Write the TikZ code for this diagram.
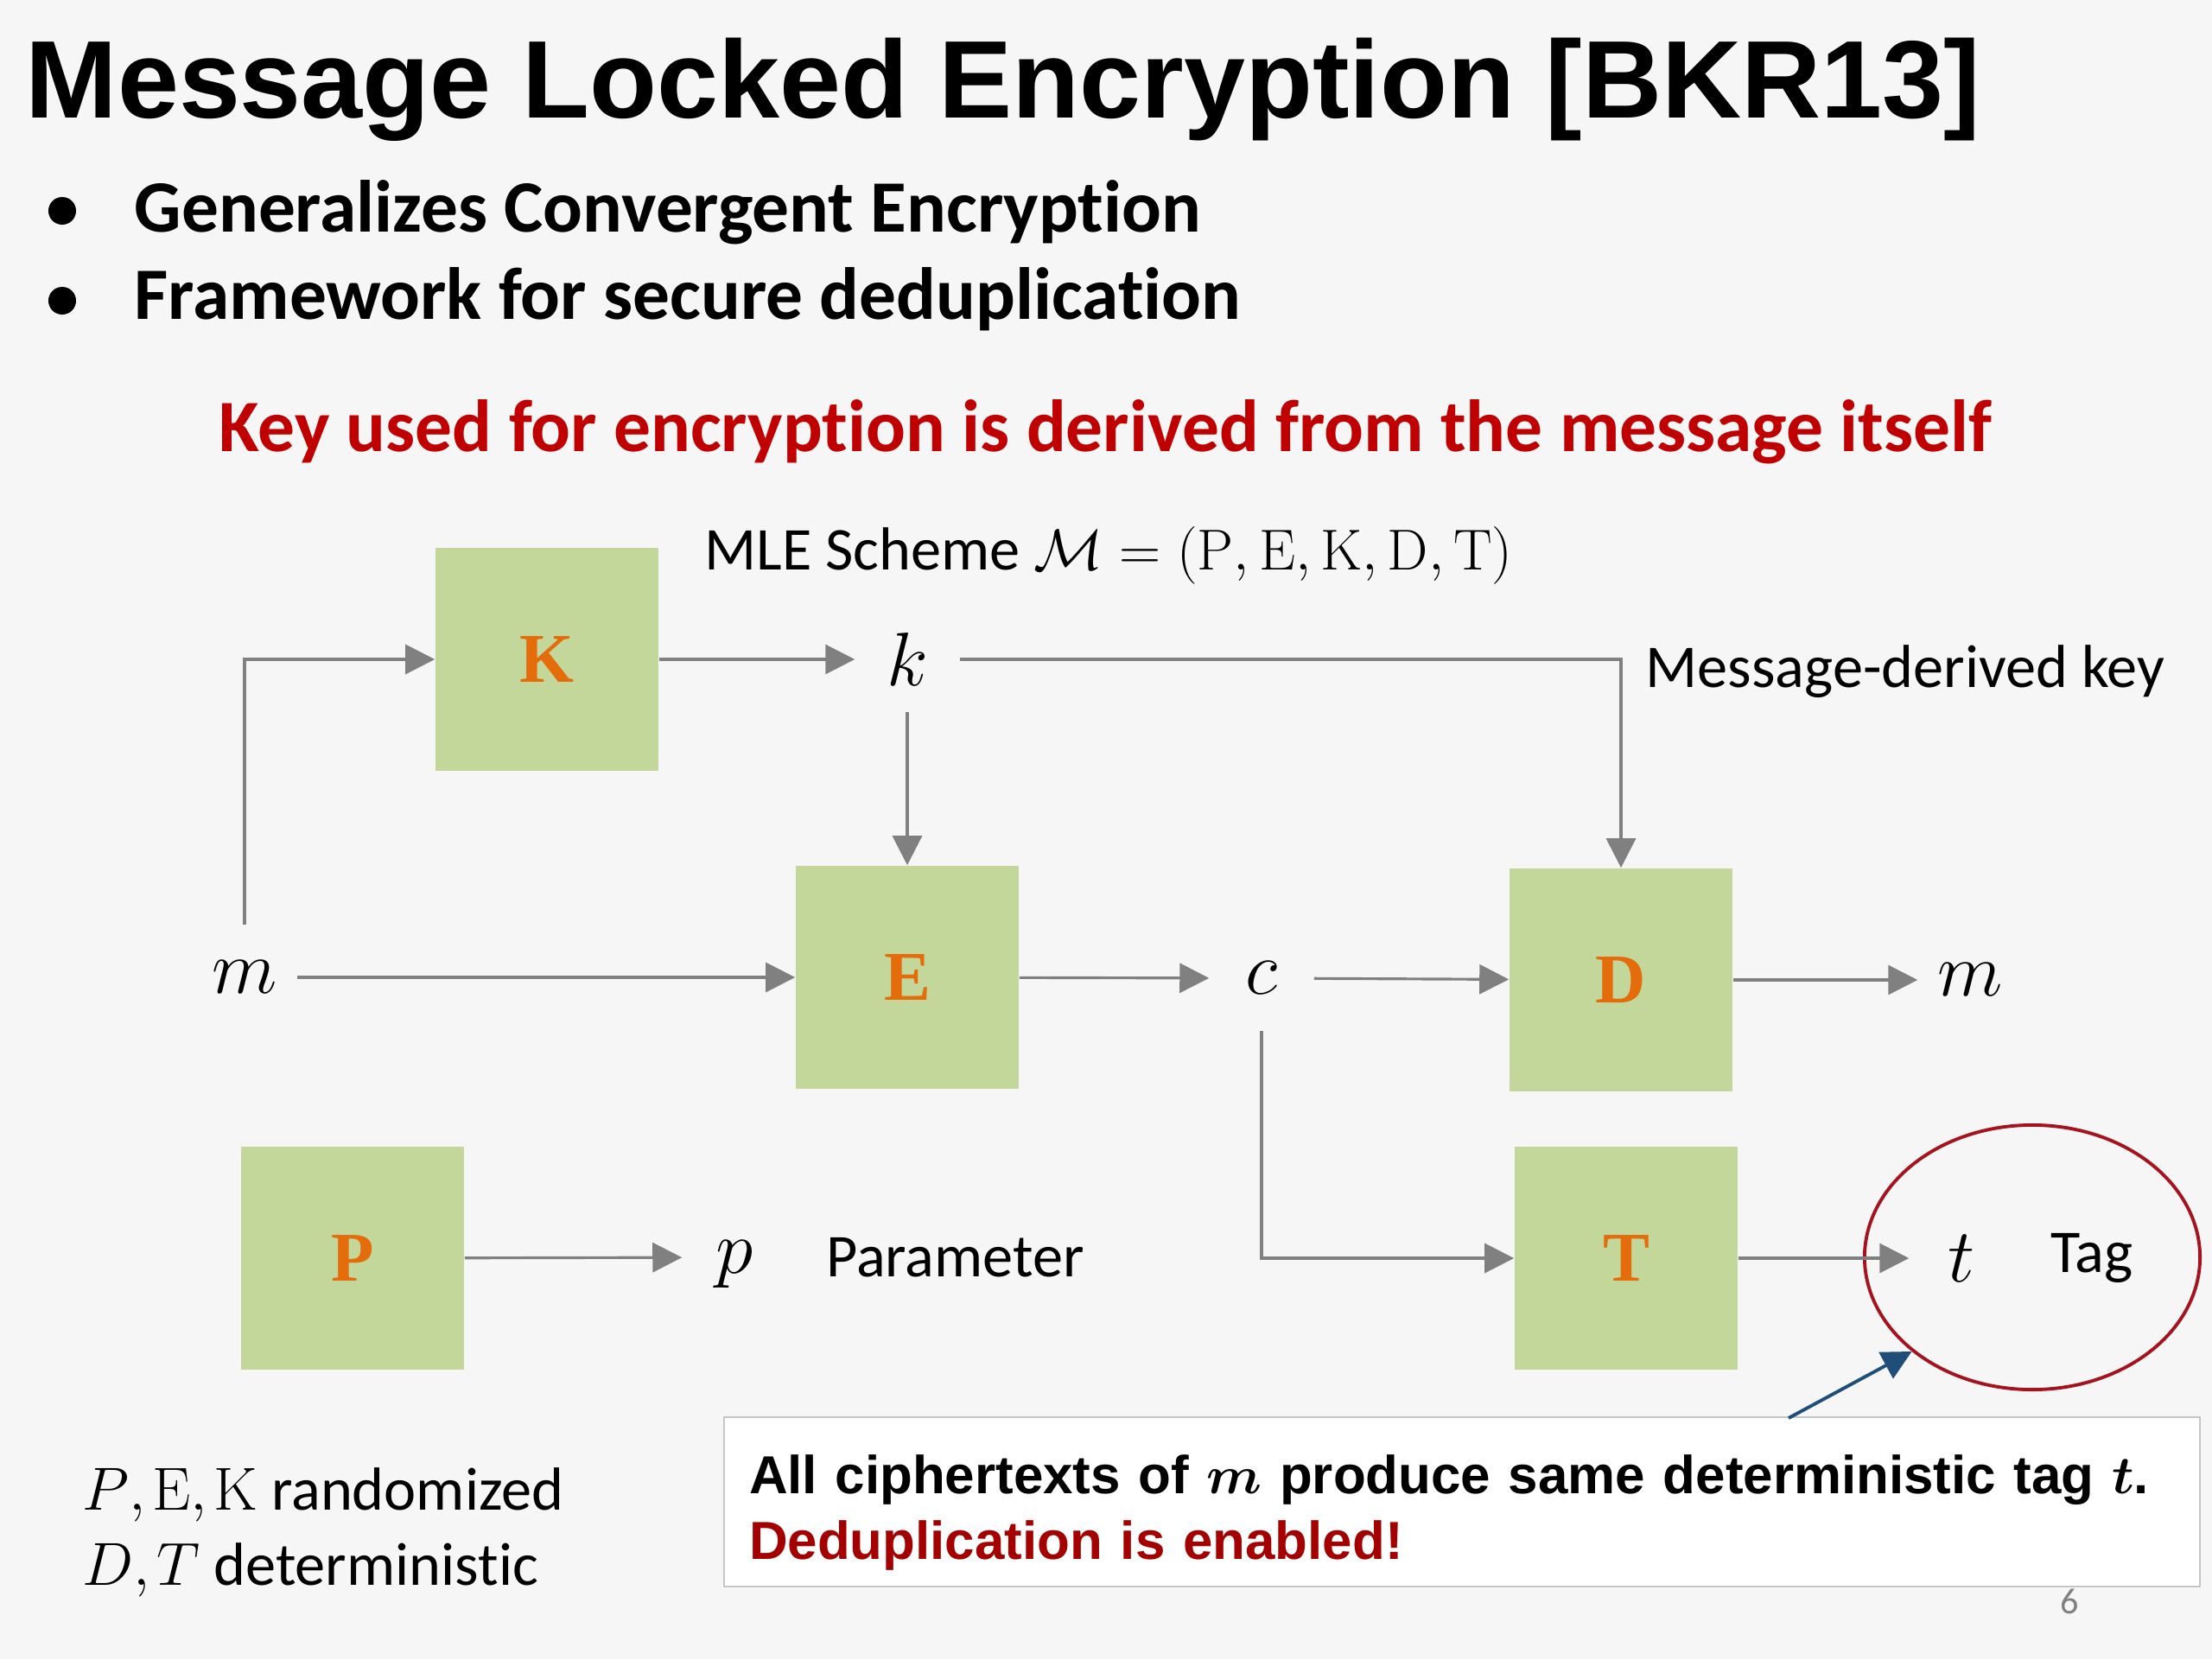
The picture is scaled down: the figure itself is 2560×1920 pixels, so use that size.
\documentclass[tikz,border=0pt]{standalone}
\usepackage{fix-cm}
\usepackage[no-math]{fontspec}
\setmainfont{Carlito}[RawFeature={-liga;-clig;-calt;-ccmp;-rlig}]
\newfontfamily\arialfont{Liberation Sans}
\newfontfamily\boxfont{Liberation Serif}
\usepackage{bm}
\usepackage{tikz}
\usetikzlibrary{arrows.meta,positioning,shapes.geometric}
\definecolor{slidebg}{RGB}{246,246,246}
\definecolor{boxgreen}{RGB}{196,215,155}
\definecolor{letterorange}{RGB}{228,108,10}
\definecolor{wiregray}{RGB}{128,128,128}
\definecolor{headred}{RGB}{192,0,0}
\definecolor{notered}{RGB}{164,0,0}
\definecolor{ringred}{RGB}{165,20,30}
\definecolor{noteblue}{RGB}{31,78,121}
\newcommand{\varsz}{\fontsize{25}{30}\selectfont}
\newcommand{\lblsz}{\fontsize{20}{24}\selectfont}

\begin{document}
\begin{tikzpicture}[x=0.01cm, y=-0.01cm, >={Triangle[length=0.34cm,width=0.34cm]},
	box/.style={rectangle, fill=boxgreen, minimum width=2.58cm, minimum height=2.58cm, inner sep=0, text=letterorange, font=\boxfont\bfseries\fontsize{23}{28}\selectfont},
	var/.style={circle, minimum size=1.2cm, inner sep=0, text depth=0pt, font=\varsz},
	txt/.style={anchor=base west, inner sep=0},
	wire/.style={->, wiregray, line width=0.9pt}]
		\fill[slidebg] (0,0) rectangle (2560,1920);
		\useasboundingbox (0,0) rectangle (2560,1920);

		\node[txt, font=\arialfont\bfseries\fontsize{36.3}{44}\selectfont] (title) at (29,136) {Message Locked Encryption [BKR13]};
		\fill (72,244) circle (0.16cm);
		\fill (72,348) circle (0.16cm);
		\node[txt, font=\bfseries\fontsize{24.3}{29}\selectfont] (pt1) at (155,268) {Generalizes Convergent Encryption};
		\node[txt, font=\bfseries\fontsize{24.3}{29}\selectfont] (pt2) at (155,369) {Framework for secure deduplication};
		\node[txt, text=headred, font=\bfseries\fontsize{24.3}{29}\selectfont] (claim) at (253,522) {Key used for encryption is derived from the message itself};
		\node[txt, font=\lblsz] (scheme) at (815,659) {MLE Scheme {\fontsize{19}{24}\selectfont$\mathcal{M} = (\mathrm{P}, \mathrm{E}, \mathrm{K}, \mathrm{D}, \mathrm{T})$}};

		\node[box] (boxK) at (633,763) {K};
		\node[box] (boxE) at (1050,1131) {E};
		\node[box] (boxD) at (1876,1134) {D};
		\node[box] (boxT) at (1882,1456) {T};
		\node[box] (boxP) at (408,1456) {P};

		\node[var] (vk) at (1050,763) {$k$};
		\node[var] (vm) at (283,1131) {$m$};
		\node[var] (vc) at (1460,1132) {$c$};
		\node[var] (vmout) at (2280,1134) {$m$};
		\node[var] (vt) at (2270,1456) {$t$};
		\node[var] (vp) at (850,1455) {$p$};

		\node[txt, font=\lblsz] (keynote) at (1904,795) {Message-derived key};
		\node[font=\lblsz] (tag) [right=0.3cm of vt] {Tag};
		\node[font=\lblsz] (param) [right=0.33cm of vp] {Parameter};
		\node[ellipse, draw=ringred, line width=1.1pt, minimum width=3.88cm, minimum height=3.06cm] (tagring) at (2352,1455) {};

		\path[wire]
		(boxK) edge (vk)
		(vk) edge (boxE)
		(vm) edge (boxE)
		(boxE) edge (vc)
		(vc) edge (boxD)
		(boxD) edge (vmout)
		(boxT) edge (vt)
		(boxP) edge (vp)
		;
		\draw[wire] (vm) |- (boxK);
		\draw[wire] (vk) -| (boxD);
		\draw[wire] (vc) |- (boxT);

		\node[txt, font=\lblsz] (rnd) at (95,1747) {$P{,}\mkern2mu\mathrm{E}{,}\mkern2mu\mathrm{K}$ randomized};
		\node[txt, font=\lblsz] (det) at (95,1834) {$D{,}\mkern2mu T$ deterministic};

		\node[draw=gray!45, fill=white, line width=0.6pt, minimum width=17.07cm, minimum height=1.96cm, text width=16.49cm, inner xsep=0.29cm, inner ysep=0.1cm, align=left, font=\arialfont\bfseries\fontsize{17.6}{21.6}\selectfont] (note) at (1692,1738) {\rule{0pt}{20pt}All ciphertexts of $\bm{m}$ produce same deterministic tag $\bm{t}$.\\\textcolor{notered}{Deduplication is enabled!}};
		\coordinate (pin) at (2070,1641);
		\draw[->, noteblue, line width=1.1pt] (pin) -- (tagring.218);

		\node[text=gray, font=\fontsize{12}{14}\selectfont] (pageno) at (2395,1853) {6};
	\end{tikzpicture}
\end{document}
